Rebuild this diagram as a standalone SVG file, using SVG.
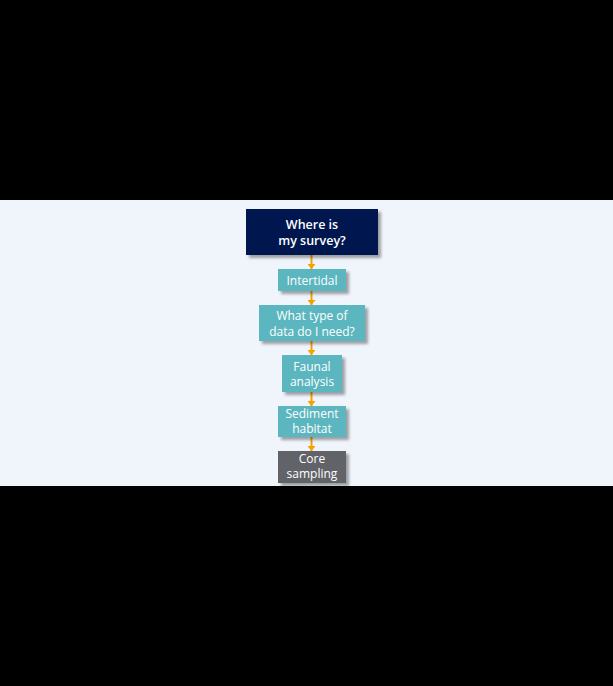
<svg xmlns="http://www.w3.org/2000/svg" width="613" height="686" viewBox="0 0 613 686">
<defs>
<filter id="sh" x="-20%" y="-20%" width="150%" height="160%">
<feDropShadow dx="3" dy="3" stdDeviation="1.5" flood-color="#000" flood-opacity="0.35"/>
</filter>
<marker id="ah" markerWidth="5" markerHeight="8" refX="5" refY="4" orient="auto" markerUnits="userSpaceOnUse" viewBox="0 0 5 8">
<path d="M0,0 L5,4 L0,8 Z" fill="#F5A100"/>
</marker>
</defs>
<style>
text{font-family:"Open Sans","Noto Sans","DejaVu Sans",sans-serif;font-size:12px;fill:#fff;text-anchor:middle}
.b{font-weight:600;font-size:12.5px}
.teal{fill:#5BB6BF}
.navy{fill:#00174F}
.gray{fill:#626469}
.c line{stroke:#F5A100;stroke-width:2}
</style>
<rect x="0" y="0" width="613" height="686" fill="#000"/>
<rect x="0" y="200" width="613" height="286" fill="#F0F5FC"/>
<g class="c" id="connectors">
<line x1="311.5" y1="255" x2="311.5" y2="269" marker-end="url(#ah)"/>
<line x1="311.5" y1="291" x2="311.5" y2="305" marker-end="url(#ah)"/>
<line x1="311.5" y1="341" x2="311.5" y2="355" marker-end="url(#ah)"/>
<line x1="311.5" y1="392" x2="311.5" y2="406" marker-end="url(#ah)"/>
<line x1="311.5" y1="437" x2="311.5" y2="451" marker-end="url(#ah)"/>
</g>
<g id="n1"><rect class="navy" x="246" y="209" width="132" height="46" filter="url(#sh)"/><text class="b" x="312" y="228.5">Where is</text><text class="b" x="312" y="244.5">my survey?</text></g>
<g id="n2"><rect class="teal" x="278" y="269" width="68" height="22" filter="url(#sh)"/><text x="312" y="285">Intertidal</text></g>
<g id="n3"><rect class="teal" x="259" y="305" width="106" height="36" filter="url(#sh)"/><text x="312" y="320">What type of</text><text x="312" y="335.5">data do I need?</text></g>
<g id="n4"><rect class="teal" x="282" y="355" width="60" height="37" filter="url(#sh)"/><text x="312" y="370.7">Faunal</text><text x="312" y="386">analysis</text></g>
<g id="n5"><rect class="teal" x="278" y="406" width="68" height="31" filter="url(#sh)"/><text x="312" y="417.7">Sediment</text><text x="312" y="433.3">habitat</text></g>
<g id="n6"><rect class="gray" x="278" y="451" width="68" height="32" filter="url(#sh)"/><text x="312" y="462.5">Core</text><text x="312" y="478">sampling</text></g>
<rect x="0" y="486" width="613" height="200" fill="#000"/>
</svg>
